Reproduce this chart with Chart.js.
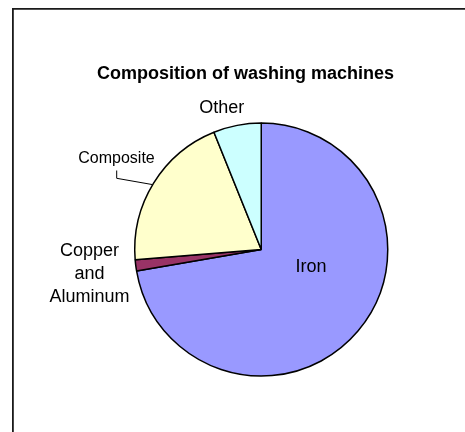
<!DOCTYPE html>
<html>
<head>
<meta charset="utf-8">
<script src="https://cdn.jsdelivr.net/npm/chart.js@4"></script>
<style>
    body { margin: 0; background: #fff; }
    #wrap { width: 465px; height: 432px; }
</style>
</head>
<body>
<div id="wrap"><canvas id="myChart" width="465" height="432"></canvas></div>
<script>
const categories = ["Iron", "Copper and Aluminum", "Composite", "Other"];
const shares = [72.3, 1.4, 20.2, 6.1];
const sliceColors = ["#9999ff", "#993366", "#ffffcc", "#ccffff"];

const chartTitle = "Composition of washing machines";
const font = "'Liberation Sans', Arial, sans-serif";

// labels drawn as in the original office chart
const pieLabels = {
    id: "pieLabels",
    afterDraw(chart) {
        const c = chart.ctx;
        c.save();

        // frame (only top and left edges are in view)
        c.strokeStyle = "#1a1a1a";
        c.lineWidth = 1.8;
        c.beginPath();
        c.moveTo(12.9, 432);
        c.lineTo(12.9, 8.9);
        c.lineTo(465, 8.9);
        c.stroke();

        c.fillStyle = "#000";
        c.textAlign = "center";
        c.textBaseline = "alphabetic";

        c.font = "bold 18px " + font;
        c.fillText(chartTitle, 245.5, 79);

        c.font = "18px " + font;
        c.fillText("Other", 221.7, 112.5);
        c.fillText("Iron", 311, 271.7);
        c.fillText("Copper", 89.4, 256);
        c.fillText("and", 89.4, 279);
        c.fillText("Aluminum", 89.4, 301.5);

        c.font = "16px " + font;
        c.fillText("Composite", 116.5, 162.7);

        // leader line for Composite
        c.strokeStyle = "#000";
        c.lineWidth = 1;
        c.beginPath();
        c.moveTo(116.7, 170.5);
        c.lineTo(116.7, 178.3);
        c.lineTo(152, 184.5);
        c.stroke();

        c.restore();
    },
};

const ctx = document.getElementById("myChart");

const chart = new Chart(ctx, {
    type: "pie",
    data: {
        labels: categories,
        datasets: [
            {
                data: shares,
                backgroundColor: sliceColors,
                borderColor: "#000",
                borderWidth: 1.5,
            },
        ],
    },
    options: {
        responsive: false,
        animation: false,
        layout: {
            padding: { left: 134, top: 122.3, right: 76.5, bottom: 55.2 },
        },
        plugins: {
            legend: { display: false },
            tooltip: { enabled: false },
            title: { display: false },
        },
    },
    plugins: [pieLabels],
});
</script>
</body>
</html>
